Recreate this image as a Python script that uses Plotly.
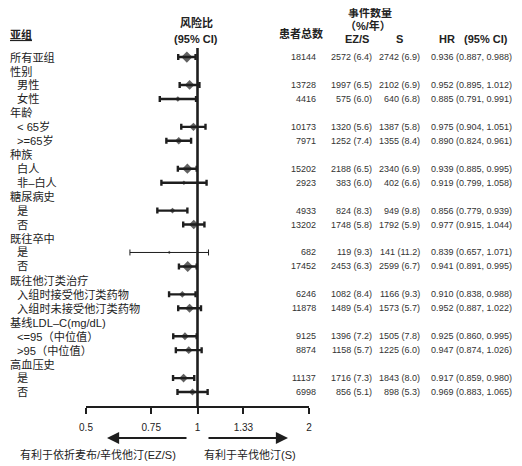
import math
import plotly.graph_objects as go

labels = ["所有亚组", "性别", "男性", "女性", "年龄", "< 65岁", ">=65岁", "种族", "白人", "非–白人",
          "糖尿病史", "是", "否", "既往卒中", "是", "否", "既往他汀类治疗",
          "入组时接受他汀类药物", "入组时未接受他汀类药物", "基线LDL–C(mg/dL)",
          "<=95（中位值）", ">95（中位值）", "高血压史", "是", "否"]
level = [0, 0, 1, 1, 0, 1, 1, 0, 1, 1, 0, 1, 1, 0, 1, 1, 0, 1, 1, 0, 1, 1, 0, 1, 1]
patients = [18144, None, 13728, 4416, None, 10173, 7971, None, 15202, 2923,
            None, 4933, 13202, None, 682, 17452, None, 6246, 11878, None,
            9125, 8874, None, 11137, 6998]
ez_n = [2572, None, 1997, 575, None, 1320, 1252, None, 2188, 383,
        None, 824, 1748, None, 119, 2453, None, 1082, 1489, None,
        1396, 1158, None, 1716, 856]
ez_rate = [6.4, None, 6.5, 6.0, None, 5.6, 7.4, None, 6.5, 6.0,
           None, 8.3, 5.8, None, 9.3, 6.3, None, 8.4, 5.4, None,
           7.2, 5.7, None, 7.3, 5.1]
s_n = [2742, None, 2102, 640, None, 1387, 1355, None, 2340, 402,
       None, 949, 1792, None, 141, 2599, None, 1166, 1573, None,
       1505, 1225, None, 1843, 898]
s_rate = [6.9, None, 6.9, 6.8, None, 5.8, 8.4, None, 6.9, 6.6,
          None, 9.8, 5.9, None, 11.2, 6.7, None, 9.3, 5.7, None,
          7.8, 6.0, None, 8.0, 5.3]
hr = [0.936, None, 0.952, 0.885, None, 0.975, 0.890, None, 0.939, 0.919,
      None, 0.856, 0.977, None, 0.839, 0.941, None, 0.910, 0.952, None,
      0.925, 0.947, None, 0.917, 0.969]
lo = [0.887, None, 0.895, 0.791, None, 0.904, 0.824, None, 0.885, 0.799,
      None, 0.779, 0.915, None, 0.657, 0.891, None, 0.838, 0.887, None,
      0.860, 0.874, None, 0.859, 0.883]
hi = [0.988, None, 1.012, 0.991, None, 1.051, 0.961, None, 0.995, 1.058,
      None, 0.939, 1.044, None, 1.071, 0.995, None, 0.988, 1.022, None,
      0.995, 1.026, None, 0.980, 1.065]

tick_vals = [0.5, 0.75, 1, 1.33, 2]
tick_text = ["0.5", "0.75", "1", "1.33", "2"]

CJK = "Liberation Sans, Noto Sans CJK SC, Arial"
NUM = "Liberation Sans, Arial"
INK = "#1e1e1e"

# the page body has an 8px margin, so lay out in window pixels and shift
OFF = 8
W, H = 522 - OFF, 466 - OFF
T, B = 48 - OFF, 406 - OFF          # plot area top / bottom (x-axis line)
Y_TOP, Y_BOT = -0.65, 25.0

def px(p):  # window pixel x -> paper x
    return (p - OFF) / W

def py(p):  # window pixel y -> paper y
    return (B - (p - OFF)) / (B - T)

fig = go.Figure()

# reference line at HR = 1
fig.add_trace(go.Scatter(x=[1, 1], y=[Y_TOP, Y_BOT], mode="lines",
                         line=dict(color=INK, width=2.6),
                         showlegend=False, hoverinfo="skip"))

rows = [i for i, v in enumerate(hr) if v is not None]
for thin in (False, True):
    idx = [i for i in rows if (patients[i] < 1000) == thin]
    fig.add_trace(go.Scatter(
        x=[hr[i] for i in idx], y=idx, mode="markers",
        marker=dict(symbol="diamond", color=INK,
                    size=[max(2.5, 0.064 * math.sqrt(patients[i])) for i in idx],
                    line=dict(width=0)),
        error_x=dict(type="data", symmetric=False,
                     array=[hi[i] - hr[i] for i in idx],
                     arrayminus=[hr[i] - lo[i] for i in idx],
                     color=INK, thickness=1 if thin else 2.4, width=3),
        showlegend=False, hoverinfo="skip"))

ann = []
for i, lab in enumerate(labels):
    ann.append(dict(x=px(8 if level[i] == 0 else 15), y=i, xref="paper", yref="y",
                    text=lab, xanchor="left", yanchor="middle", showarrow=False,
                    font=dict(family=CJK, size=11.2, color="#222")))
    if patients[i] is None:
        continue
    cols = [(318, f"{patients[i]}"),
            (374, f"{ez_n[i]} ({ez_rate[i]:.1f})"),
            (422, f"{s_n[i]} ({s_rate[i]:.1f})"),
            (514, f"{hr[i]:.3f} ({lo[i]:.3f}, {hi[i]:.3f})")]
    for xp, t in cols:
        ann.append(dict(x=px(xp), y=i, xref="paper", yref="y", text=t,
                        xanchor="right", yanchor="middle", showarrow=False,
                        font=dict(family=NUM, size=9, color="#333")))

headers = [(8, 34, "<b><u>亚组</u></b>", "left"),
           (196, 22, "<b>风险比</b>", "center"),
           (196, 39, "<b>(95% CI)</b>", "center"),
           (301, 33, "<b>患者总数</b>", "center"),
           (370, 12, "<b>事件数量</b>", "center"),
           (368, 25, "<b>（%/年）</b>", "center"),
           (357, 39, "<b>EZ/S</b>", "center"),
           (399, 39, "<b>S</b>", "center"),
           (473, 39, "<b>HR   (95% CI)</b>", "center"),
           (98, 455, "有利于依折麦布/辛伐他汀(EZ/S)", "center"),
           (250, 455, "有利于辛伐他汀(S)", "center")]
for xp, yp, t, anc in headers:
    ann.append(dict(x=px(xp), y=py(yp), xref="paper", yref="paper", text=t,
                    xanchor=anc, yanchor="middle", showarrow=False,
                    font=dict(family=CJK, size=11, color="#222")))

# direction arrows
for head, tail in ((107, 188), (288, 207)):
    ann.append(dict(x=px(head), y=py(438), xref="paper", yref="paper", text="",
                    showarrow=True, ax=tail - head, ay=0, axref="pixel", ayref="pixel",
                    arrowhead=2, arrowsize=1.1, arrowwidth=2.2, arrowcolor=INK))

fig.update_layout(
    width=W, height=H,
    margin=dict(l=0, r=0, t=T, b=H - B),
    plot_bgcolor="white", paper_bgcolor="white",
    annotations=ann,
    xaxis=dict(type="log", domain=[px(86), px(309)],
               range=[math.log10(0.5), math.log10(2)],
               tickvals=tick_vals, ticktext=tick_text,
               showline=True, linecolor=INK, linewidth=2,
               ticks="outside", ticklen=6, tickwidth=2, tickcolor=INK,
               ticklabelstandoff=5,
               showgrid=False, zeroline=False, automargin=False,
               tickfont=dict(family=NUM, size=10, color="#222")),
    yaxis=dict(range=[Y_BOT, Y_TOP], visible=False, automargin=False),
)

fig.write_html("out.html")
